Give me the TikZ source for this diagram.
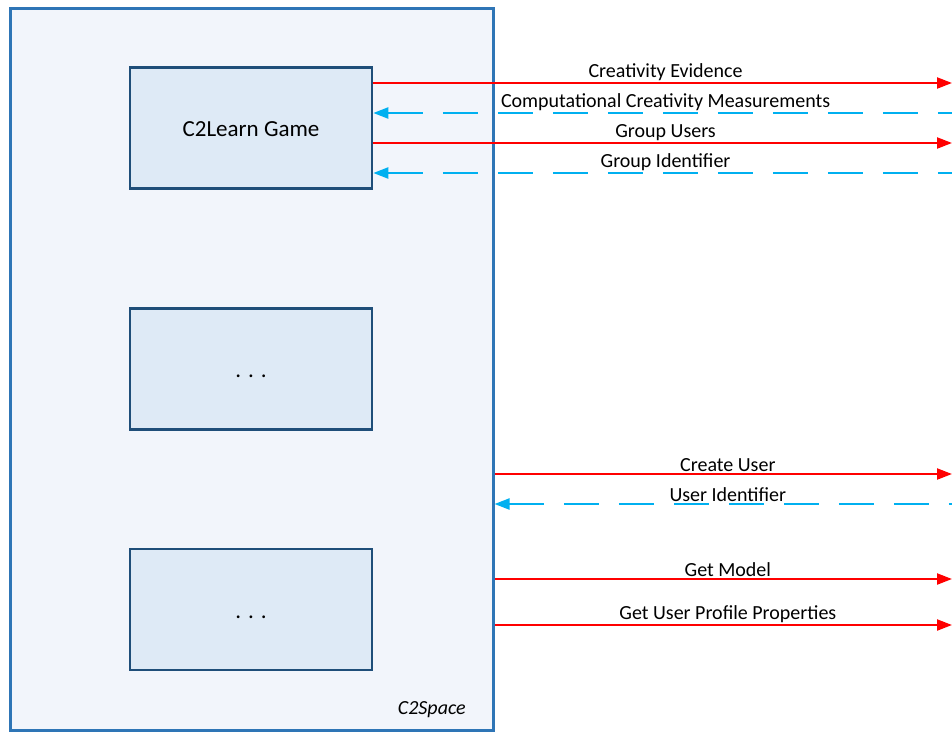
\documentclass[tikz,border=0pt]{standalone}
\usepackage{fontspec}
\setmainfont{Carlito}
\usetikzlibrary{arrows.meta}
\usetikzlibrary{calc}
\definecolor{frameblue}{HTML}{2E75B6}
\definecolor{boxblue}{HTML}{1F4E79}
\definecolor{boxfill}{HTML}{DEEAF6}
\definecolor{spacefill}{HTML}{F2F5FB}
\definecolor{reqred}{HTML}{FF0000}
\definecolor{repcyan}{HTML}{00B0F0}
\tikzset{
  module/.style={draw=boxblue, line width=2.6pt, fill=boxfill, minimum width=242pt, minimum height=121pt, inner sep=0pt, text height=18pt, text depth=1pt, font=\fontsize{23}{27}\selectfont},
  req/.style={draw=reqred, line width=2.2pt, -{Triangle[length=15pt,width=11pt]}},
  rep/.style={draw=repcyan, line width=2.2pt, dash pattern=on 35pt off 20pt, {Triangle[length=15pt,width=11pt]}-},
  msg/.style={font=\fontsize{20}{24}\selectfont, inner sep=0pt, above=1.5pt}
}
\begin{document}
\begin{tikzpicture}[x=1pt,y=-1pt]
\useasboundingbox (0,0) rectangle (952,731);
\node[draw=frameblue, line width=3pt, fill=spacefill, minimum width=483pt, minimum height=722pt, inner sep=0pt] (space) at (251.5,369) {};
\node[anchor=base east, inner sep=0pt, font=\fontsize{20}{24}\selectfont\itshape] (spacename) at (466,714) {C2Space};
\node[module] (game) at (251,128) {C2Learn Game};
\node[module] (dotsA) at (251,369) {. . .};
\node[module] (dotsB) at (251,609.5) {. . .};
% right ends of the messages
\coordinate (r1) at (952,83);
\coordinate (r2) at (952,113);
\coordinate (r3) at (952,143);
\coordinate (r4) at (952,173);
\coordinate (r5) at (952,474);
\coordinate (r6) at (952,504);
\coordinate (r7) at (952,579);
\coordinate (r8) at (952,625);
\draw[req] (game.east |- r1) -- (r1) node[msg, pos=0.505] {Creativity Evidence};
\draw[rep] (game.east |- r2) -- (r2) node[msg, pos=0.505] {Computational Creativity Measurements};
\draw[req] (game.east |- r3) -- (r3) node[msg, pos=0.505] {Group Users};
\draw[rep] (game.east |- r4) -- (r4) node[msg, pos=0.505] {Group Identifier};
\draw[req] (space.east |- r5) -- (r5) node[msg, pos=0.51] {Create User};
\draw[rep] (space.east |- r6) -- (r6) node[msg, pos=0.51] {User Identifier};
\draw[req] (space.east |- r7) -- (r7) node[msg, pos=0.51] {Get Model};
\draw[req] (space.east |- r8) -- (r8) node[msg, pos=0.51] {Get User Profile Properties};
\end{tikzpicture}
\end{document}
